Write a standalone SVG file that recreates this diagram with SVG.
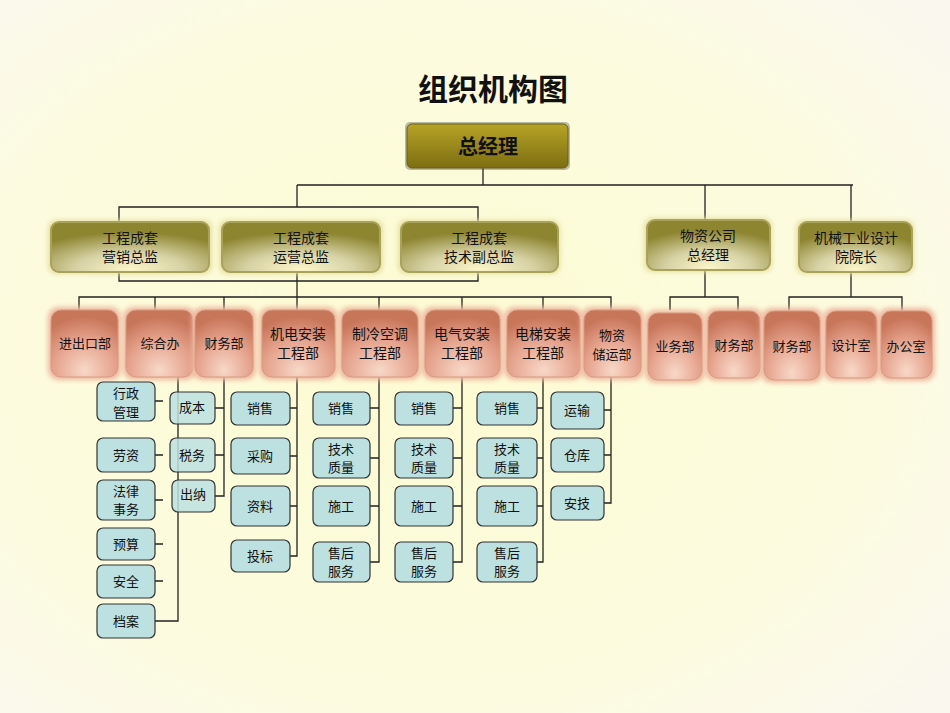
<svg xmlns="http://www.w3.org/2000/svg" width="950" height="713" viewBox="0 0 950 713">
<defs>
<radialGradient id="bg" cx="0.45" cy="0.5" r="0.7"><stop offset="0" stop-color="#fdfbd2"/><stop offset="0.7" stop-color="#fcfbe0"/><stop offset="1" stop-color="#faf8ee"/></radialGradient>
<radialGradient id="gold" cx="0.5" cy="0.95" r="0.75"><stop offset="0" stop-color="#fbf5c8"/><stop offset="0.45" stop-color="#d8d3a6"/><stop offset="1" stop-color="#8d8530"/></radialGradient>
<linearGradient id="top" x1="0" y1="0" x2="0" y2="1"><stop offset="0" stop-color="#b6a326"/><stop offset="1" stop-color="#7d6e12"/></linearGradient>
<radialGradient id="red" cx="0.5" cy="0.9" r="0.8"><stop offset="0" stop-color="#f8d8c8"/><stop offset="0.6" stop-color="#e4a08a"/><stop offset="1" stop-color="#c8765a"/></radialGradient>
<filter id="glow" x="-20%" y="-20%" width="140%" height="140%"><feGaussianBlur stdDeviation="2.5"/></filter>
</defs>
<style>
text{font-family:"Noto Sans CJK SC","Liberation Serif",serif;fill:#111;text-anchor:middle}
.g{fill:url(#gold);stroke:#a9a25a;stroke-width:2}
.r{fill:url(#red);stroke:#d89a80;stroke-width:1}
.rg{fill:#eeb8a0;filter:url(#glow)}
.gg{fill:#e6e0a0;filter:url(#glow)}
.b{fill:#bde0e0;stroke:#333;stroke-width:1.2}
.t{font-size:14px}
.s{font-size:13px}
#conn path{fill:none;stroke:#222;stroke-width:1.3}
</style>
<rect width="950" height="713" fill="url(#bg)"/>
<text x="493" y="100" style="font-size:30px;font-weight:bold;font-family:'Noto Sans CJK SC',serif">组织机构图</text>

<g id="conn">
<path d="M483 168V185M297 185H853M297 185V207M119 222V207H478V222M705 185V220M851 185V222"/>
<path d="M119 272V281H478V272M297 272V297M79 310V297H611V310M155 297V310M224 297V310M379 297V310M462 297V310M543 297V310M297 297V310"/>
<path d="M705 270V297M670 310V297H738V310M851 272V297M789 310V297H902V310"/>
<path d="M178 377V621H155M155 401H163M155 455H163M155 500H163M155 544H163M155 581H163"/>
<path d="M224 377V496H215M215 408H224M215 455H224"/>
<path d="M297 377V556H290M290 408H297M290 456H297M290 506H297"/>
<path d="M379 377V562H370M370 408H379M370 458H379M370 506H379"/>
<path d="M462 377V562H453M453 408H462M453 458H462M453 506H462"/>
<path d="M543 377V562H537M537 408H543M537 458H543M537 506H543"/>
<path d="M611 377V503H604M604 410H611M604 455H611"/>
</g>

<g id="n-top"><rect x="405" y="122" width="165" height="48" rx="5" fill="#555" opacity="0.4"/><rect x="407" y="124" width="161" height="44" rx="5" fill="url(#top)" stroke="#6b5f10"/><text x="488" y="154" style="font-size:20px;font-weight:bold">总经理</text></g>

<g id="n-m1"><rect class="gg" x="48" y="220" width="164" height="54" rx="8"/><rect class="g" x="51" y="222" width="158" height="50" rx="8"/><text class="t" x="130" y="243">工程成套</text><text class="t" x="130" y="262">营销总监</text></g>
<g id="n-m2"><rect class="gg" x="219" y="220" width="164" height="54" rx="8"/><rect class="g" x="222" y="222" width="158" height="50" rx="8"/><text class="t" x="301" y="243">工程成套</text><text class="t" x="301" y="262">运营总监</text></g>
<g id="n-m3"><rect class="gg" x="398" y="220" width="162" height="54" rx="8"/><rect class="g" x="401" y="222" width="157" height="50" rx="8"/><text class="t" x="479" y="243">工程成套</text><text class="t" x="479" y="262">技术副总监</text></g>
<g id="n-m4"><rect class="gg" x="644" y="218" width="128" height="54" rx="8"/><rect class="g" x="647" y="220" width="123" height="50" rx="8"/><text class="t" x="708" y="241">物资公司</text><text class="t" x="708" y="260">总经理</text></g>
<g id="n-m5"><rect class="gg" x="796" y="220" width="118" height="54" rx="8"/><rect class="g" x="799" y="222" width="113" height="50" rx="8"/><text class="t" x="856" y="243">机械工业设计</text><text class="t" x="856" y="262">院院长</text></g>

<g id="n-d1"><rect class="rg" x="48" y="307" width="73" height="73" rx="10"/><rect class="r" x="51" y="310" width="67" height="67" rx="10"/><text class="s" x="85" y="348">进出口部</text></g>
<g id="n-d2"><rect class="rg" x="123" y="307" width="73" height="73" rx="10"/><rect class="r" x="126" y="310" width="67" height="67" rx="10"/><text class="s" x="160" y="348">综合办</text></g>
<g id="n-d3"><rect class="rg" x="192" y="307" width="64" height="73" rx="10"/><rect class="r" x="195" y="310" width="58" height="67" rx="10"/><text class="s" x="224" y="348">财务部</text></g>
<g id="n-d4"><rect class="rg" x="259" y="307" width="79" height="73" rx="10"/><rect class="r" x="262" y="310" width="73" height="67" rx="10"/><text class="t" x="298" y="339">机电安装</text><text class="t" x="298" y="358">工程部</text></g>
<g id="n-d5"><rect class="rg" x="339" y="307" width="82" height="73" rx="10"/><rect class="r" x="342" y="310" width="76" height="67" rx="10"/><text class="t" x="380" y="339">制冷空调</text><text class="t" x="380" y="358">工程部</text></g>
<g id="n-d6"><rect class="rg" x="422" y="307" width="81" height="73" rx="10"/><rect class="r" x="425" y="310" width="75" height="67" rx="10"/><text class="t" x="462" y="339">电气安装</text><text class="t" x="462" y="358">工程部</text></g>
<g id="n-d7"><rect class="rg" x="504" y="307" width="79" height="73" rx="10"/><rect class="r" x="507" y="310" width="73" height="67" rx="10"/><text class="t" x="543" y="339">电梯安装</text><text class="t" x="543" y="358">工程部</text></g>
<g id="n-d8"><rect class="rg" x="581" y="307" width="63" height="73" rx="10"/><rect class="r" x="584" y="310" width="57" height="67" rx="10"/><text class="s" x="612" y="340">物资</text><text class="s" x="612" y="359">储运部</text></g>
<g id="n-d9"><rect class="rg" x="645" y="310" width="60" height="73" rx="10"/><rect class="r" x="648" y="313" width="54" height="67" rx="10"/><text class="s" x="675" y="351">业务部</text></g>
<g id="n-d10"><rect class="rg" x="705" y="308" width="58" height="73" rx="10"/><rect class="r" x="708" y="311" width="52" height="67" rx="10"/><text class="s" x="734" y="350">财务部</text></g>
<g id="n-d11"><rect class="rg" x="761" y="308" width="62" height="75" rx="10"/><rect class="r" x="764" y="311" width="56" height="69" rx="10"/><text class="s" x="792" y="351">财务部</text></g>
<g id="n-d12"><rect class="rg" x="823" y="308" width="57" height="73" rx="10"/><rect class="r" x="826" y="311" width="51" height="67" rx="10"/><text class="s" x="851" y="350">设计室</text></g>
<g id="n-d13"><rect class="rg" x="878" y="308" width="57" height="73" rx="10"/><rect class="r" x="881" y="311" width="51" height="67" rx="10"/><text class="s" x="906" y="351">办公室</text></g>

<g id="n-c1a"><rect class="b" x="97" y="382" width="58" height="39" rx="6"/><text class="s" x="126" y="398">行政</text><text class="s" x="126" y="417">管理</text></g>
<g id="n-c1b"><rect class="b" x="97" y="438" width="58" height="34" rx="6"/><text class="s" x="126" y="460">劳资</text></g>
<g id="n-c1c"><rect class="b" x="97" y="480" width="58" height="40" rx="6"/><text class="s" x="126" y="496">法律</text><text class="s" x="126" y="514">事务</text></g>
<g id="n-c1d"><rect class="b" x="97" y="528" width="58" height="32" rx="6"/><text class="s" x="126" y="549">预算</text></g>
<g id="n-c1e"><rect class="b" x="97" y="565" width="58" height="33" rx="6"/><text class="s" x="126" y="586">安全</text></g>
<g id="n-c1f"><rect class="b" x="97" y="604" width="58" height="34" rx="6"/><text class="s" x="126" y="626">档案</text></g>

<g id="n-c2a"><rect class="b" x="170" y="392" width="45" height="32" rx="6" fill-opacity="0.85"/><text class="s" x="192" y="412">成本</text></g>
<g id="n-c2b"><rect class="b" x="170" y="438" width="45" height="34" rx="6" fill-opacity="0.85"/><text class="s" x="192" y="460">税务</text></g>
<g id="n-c2c"><rect class="b" x="172" y="480" width="43" height="32" rx="6" fill-opacity="0.85"/><text class="s" x="193" y="499">出纳</text></g>

<g id="n-c3a"><rect class="b" x="231" y="392" width="59" height="33" rx="6"/><text class="s" x="260" y="413">销售</text></g>
<g id="n-c3b"><rect class="b" x="231" y="438" width="59" height="36" rx="6"/><text class="s" x="260" y="461">采购</text></g>
<g id="n-c3c"><rect class="b" x="231" y="486" width="59" height="40" rx="6"/><text class="s" x="260" y="511">资料</text></g>
<g id="n-c3d"><rect class="b" x="231" y="540" width="59" height="32" rx="6"/><text class="s" x="260" y="561">投标</text></g>

<g id="n-c4a"><rect class="b" x="313" y="392" width="57" height="33" rx="6"/><text class="s" x="341" y="413">销售</text></g>
<g id="n-c4b"><rect class="b" x="313" y="438" width="57" height="40" rx="6"/><text class="s" x="341" y="454">技术</text><text class="s" x="341" y="472">质量</text></g>
<g id="n-c4c"><rect class="b" x="313" y="486" width="57" height="40" rx="6"/><text class="s" x="341" y="511">施工</text></g>
<g id="n-c4d"><rect class="b" x="313" y="542" width="57" height="40" rx="6"/><text class="s" x="341" y="558">售后</text><text class="s" x="341" y="576">服务</text></g>

<g id="n-c5a"><rect class="b" x="395" y="392" width="58" height="33" rx="6"/><text class="s" x="424" y="413">销售</text></g>
<g id="n-c5b"><rect class="b" x="395" y="438" width="58" height="40" rx="6"/><text class="s" x="424" y="454">技术</text><text class="s" x="424" y="472">质量</text></g>
<g id="n-c5c"><rect class="b" x="395" y="486" width="58" height="40" rx="6"/><text class="s" x="424" y="511">施工</text></g>
<g id="n-c5d"><rect class="b" x="395" y="542" width="58" height="40" rx="6"/><text class="s" x="424" y="558">售后</text><text class="s" x="424" y="576">服务</text></g>

<g id="n-c6a"><rect class="b" x="477" y="392" width="60" height="33" rx="6"/><text class="s" x="507" y="413">销售</text></g>
<g id="n-c6b"><rect class="b" x="477" y="438" width="60" height="40" rx="6"/><text class="s" x="507" y="454">技术</text><text class="s" x="507" y="472">质量</text></g>
<g id="n-c6c"><rect class="b" x="477" y="486" width="60" height="40" rx="6"/><text class="s" x="507" y="511">施工</text></g>
<g id="n-c6d"><rect class="b" x="477" y="542" width="60" height="40" rx="6"/><text class="s" x="507" y="558">售后</text><text class="s" x="507" y="576">服务</text></g>

<g id="n-c7a"><rect class="b" x="551" y="392" width="53" height="37" rx="6"/><text class="s" x="577" y="415">运输</text></g>
<g id="n-c7b"><rect class="b" x="551" y="438" width="53" height="34" rx="6"/><text class="s" x="577" y="460">仓库</text></g>
<g id="n-c7c"><rect class="b" x="551" y="486" width="53" height="34" rx="6"/><text class="s" x="577" y="508">安技</text></g>
</svg>
